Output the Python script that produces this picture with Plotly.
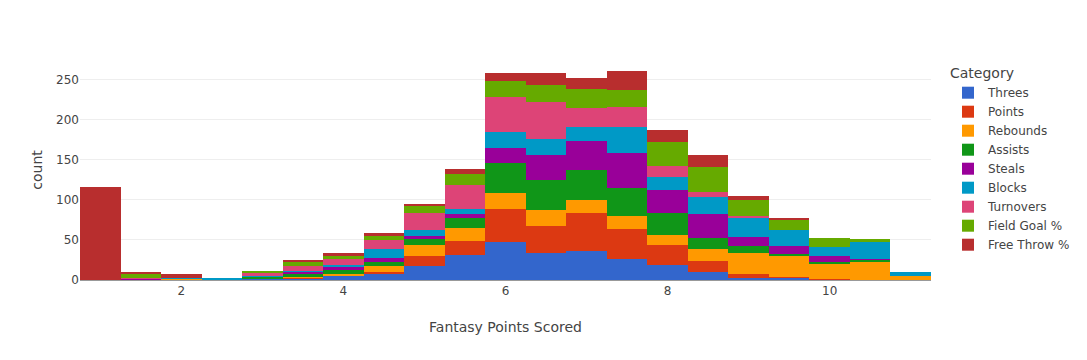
import plotly.graph_objects as go
import plotly.express as px

COLORS = px.colors.qualitative.G10

# bin centres of the histogram (bin width 0.5)
BINS = [1.0, 1.5, 2.0, 2.5, 3.0, 3.5, 4.0, 4.5, 5.0, 5.5, 6.0,
        6.5, 7.0, 7.5, 8.0, 8.5, 9.0, 9.5, 10.0, 10.5, 11.0]

CATEGORIES = ["Threes", "Points", "Rebounds", "Assists", "Steals",
              "Blocks", "Turnovers", "Field Goal %", "Free Throw %"]

threes      = [0, 0, 0, 0, 1, 2, 5, 8, 18, 31, 48, 34, 36, 26, 19, 10, 3, 3, 0, 0, 0]
points      = [0, 0, 0, 0, 0, 1, 0, 2, 12, 18, 41, 34, 48, 38, 25, 14, 5, 1, 1, 0, 0]
rebounds    = [0, 0, 2, 0, 0, 1, 3, 8, 14, 16, 20, 20, 16, 16, 12, 15, 26, 27, 19, 23, 5]
assists     = [0, 1, 0, 0, 3, 4, 5, 5, 7, 13, 37, 37, 37, 35, 28, 14, 8, 2, 2, 2, 0]
steals      = [0, 1, 0, 1, 0, 2, 3, 5, 4, 5, 19, 31, 36, 44, 29, 29, 12, 10, 8, 1, 0]
blocks      = [0, 0, 1, 1, 1, 1, 3, 11, 8, 6, 20, 20, 18, 32, 16, 22, 24, 19, 11, 21, 5]
turnovers   = [0, 1, 0, 0, 4, 6, 7, 11, 21, 30, 43, 46, 24, 25, 13, 6, 2, 0, 0, 0, 0]
field_goal  = [0, 4, 0, 0, 2, 5, 4, 5, 9, 14, 21, 21, 23, 21, 30, 31, 20, 13, 12, 4, 0]
free_throw  = [116, 3, 5, 0, 0, 3, 4, 4, 2, 5, 10, 15, 14, 24, 15, 15, 5, 2, 0, 0, 0]

SERIES = [threes, points, rebounds, assists, steals,
          blocks, turnovers, field_goal, free_throw]

fig = go.Figure()
for name, counts, color in zip(CATEGORIES, SERIES, COLORS):
    fig.add_trace(go.Bar(
        x=BINS, y=counts, name=name,
        width=0.5,
        marker=dict(color=color, line=dict(width=0)),
    ))

fig.update_layout(
    template="none",
    barmode="relative",
    bargap=0,
    width=1087, height=360,
    margin=dict(t=60),
    font=dict(family="'DejaVu Sans', sans-serif", color="#444"),
    legend=dict(title_text="Category", tracegroupgap=0, traceorder="normal"),
    xaxis=dict(title_text="Fantasy Points Scored", showgrid=False, zeroline=False,
               showline=True, linecolor="#999"),
    yaxis=dict(title_text="count", gridcolor="#eee", zeroline=False),
)

# page body margin off so the figure sits at the window origin
fig.write_html("out.html", config={"displayModeBar": False},
               post_script="document.body.style.margin='0px';")
